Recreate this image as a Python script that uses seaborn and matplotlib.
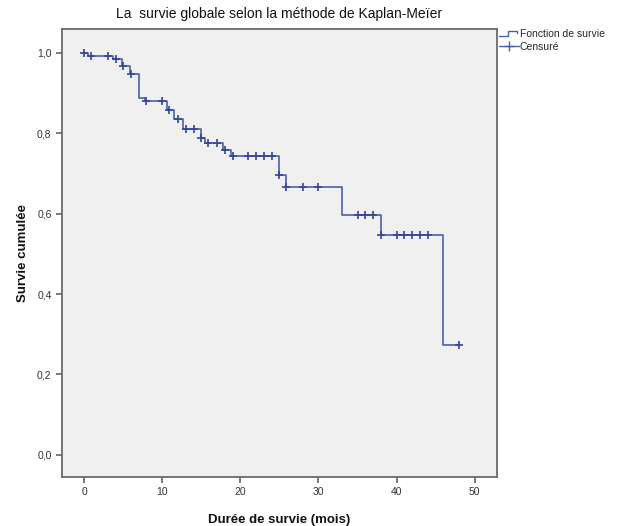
import numpy as np
import pandas as pd
import matplotlib
matplotlib.use("Agg")
import matplotlib.pyplot as plt
from matplotlib.lines import Line2D
from matplotlib.legend_handler import HandlerBase
from matplotlib.ticker import FuncFormatter
import seaborn as sns

# Kaplan-Meier survival function: times of the steps and survival after each step
step_times = [0, 0.5, 3.7, 4.8, 5.8, 7.0, 7.75, 10.6, 11.5, 12.6, 14.9, 15.5,
              17.8, 18.8, 25.0, 25.9, 33.0, 38.0, 46.0]
step_surv = [1.0, 0.991, 0.984, 0.966, 0.947, 0.887, 0.879, 0.857, 0.835, 0.811,
             0.788, 0.775, 0.758, 0.743, 0.697, 0.667, 0.597, 0.547, 0.274]

# Censored observations (months)
censor_times = [0, 0.9, 3.0, 4.0, 5.0, 6.0, 7.9, 10.0, 10.9, 12.0, 13.0, 14.0,
                15.0, 15.9, 17.0, 18.0, 19.0, 21.0, 22.0, 23.0, 24.0, 25.0, 25.9,
                28.0, 30.0, 35.0, 36.0, 37.0, 38.0, 40.0, 41.0, 42.0, 43.0, 44.0,
                48.0]

x_ticks = [0, 10, 20, 30, 40, 50]
y_ticks = [0.0, 0.2, 0.4, 0.6, 0.8, 1.0]

title = "La  survie globale selon la méthode de Kaplan-Meïer"
x_label = "Durée de survie (mois)"
y_label = "Survie cumulée"
legend_labels = ["Fonction de survie", "Censuré"]

line_color = "#4b5fae"
mark_color = "#34449a"

# Survival curve extended up to the last follow-up time
curve = pd.DataFrame({
    "t": step_times + [max(censor_times)],
    "s": step_surv + [step_surv[-1]],
})
# Survival value at each censoring time (after any step at the same time)
idx = np.searchsorted(step_times, censor_times, side="right") - 1
cens = pd.DataFrame({"t": censor_times, "s": np.asarray(step_surv)[idx]})

sns.set_theme(style="white")
plt.rcParams["font.family"] = ["Liberation Sans", "DejaVu Sans"]

fig = plt.figure(figsize=(6.23, 5.26), dpi=100)
ax = fig.add_axes([62 / 623, 1 - 477 / 526, (497 - 62) / 623, (477 - 29) / 526])
ax.set_facecolor("#f0f0f0")

sns.lineplot(data=curve, x="t", y="s", ax=ax, color=line_color, lw=1.2,
             drawstyle="steps-post", estimator=None, sort=False, legend=False)
sns.scatterplot(data=cens, x="t", y="s", ax=ax, marker="+", s=38,
                color=mark_color, linewidth=1.2, legend=False, zorder=3)

ax.set_xlim(-2.86, 52.87)
ax.set_ylim(-0.055, 1.059)
ax.set_xticks(x_ticks)
ax.set_yticks(y_ticks)
ax.yaxis.set_major_formatter(FuncFormatter(lambda v, p: f"{v:.1f}".replace(".", ",")))

for sp in ax.spines.values():
    sp.set_visible(True)
    sp.set_color("#6a6a6a")
    sp.set_linewidth(1.3)

ax.tick_params(axis="both", direction="out", length=4.5, width=1.1,
               color="#555555", labelsize=7.5, labelcolor="#333333", pad=3,
               bottom=True, left=True)

ax.set_xlabel(x_label, fontsize=9.5, fontweight="bold", color="#111111", labelpad=12)
ax.set_ylabel(y_label, fontsize=9.5, fontweight="bold", color="#111111", labelpad=6)
ax.set_title(title, fontsize=10, color="#111111", pad=8)


class StepHandler(HandlerBase):
    """Legend key drawn as a small step."""
    def create_artists(self, legend, orig_handle, xdescent, ydescent,
                       width, height, fontsize, trans):
        x0, y0 = -xdescent, -ydescent
        xs = [x0, x0 + width * 0.45, x0 + width * 0.45, x0 + width * 0.9, x0 + width * 0.9]
        ys = [y0 + height * 0.15, y0 + height * 0.15, y0 + height * 0.85,
              y0 + height * 0.85, y0 + height * 0.55]
        ln = Line2D(xs, ys, color=orig_handle.get_color(), lw=1.0, transform=trans)
        return [ln]


h_curve = Line2D([], [], color=line_color, lw=1.0)
h_cens = Line2D([], [], color=line_color, lw=1.0, marker="+", markersize=7,
                markeredgecolor=line_color, markeredgewidth=1.0)
fig.legend([h_curve, h_cens], legend_labels, loc="upper left",
           bbox_to_anchor=(497 / 623, 1 - 27 / 526), frameon=False,
           fontsize=7.5, handlelength=1.9, handletextpad=0.1,
           labelspacing=0.25, borderaxespad=0, borderpad=0.2,
           handler_map={h_curve: StepHandler()})

fig.savefig("out.png", dpi=100)
